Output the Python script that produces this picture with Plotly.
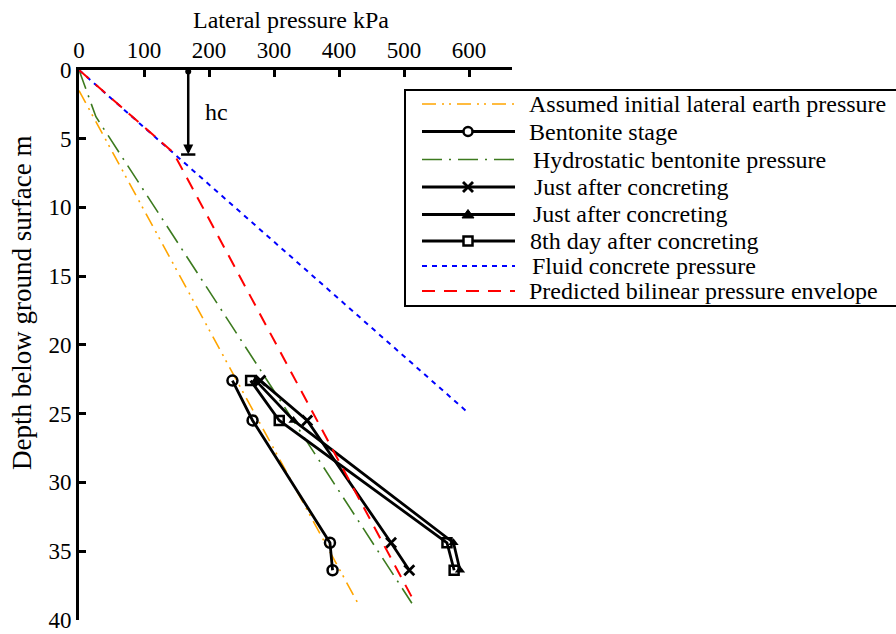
import plotly.graph_objects as go

# ---- data (pressure kPa, depth m) ----
earth_p = [0, 429]
earth_d = [1.5, 38.8]
hydro_p = [0, 26, 512]
hydro_d = [0, 3.4, 38.8]
fluid_p = [0, 600]
fluid_d = [0, 25]
bilinear_p = [0, 145, 517]
bilinear_d = [0, 6.0, 38.8]

gauge_depth = [22.6, 25.5, 34.4, 36.4]
bentonite_stage = [236, 267, 386, 390]
just_after_x = [279, 351, 480, 508]
just_after_tri = [272, 330, 576, 586]
day8_after = [264, 308, 566, 577]

hc_pressure = 168
hc_depth = 6.15

x_ticks = [0, 100, 200, 300, 400, 500, 600]
y_ticks = [0, 5, 10, 15, 20, 25, 30, 35, 40]

legend_labels = [
    "Assumed initial lateral earth pressure",
    "Bentonite stage",
    "Hydrostatic bentonite pressure",
    "Just after concreting",
    "Just after concreting",
    "8th day after concreting",
    "Fluid concrete pressure",
    "Predicted bilinear pressure envelope",
]

FONT = "Liberation Serif, Times New Roman, serif"

# styles
ORANGE = dict(color="#FFA500", width=1.6, dash="14px,6px,2px,5px,2px,6px")
GREEN = dict(color="#3C7A1E", width=1.6, dash="20px,7px,2px,7px")
BLUE = dict(color="#0000FF", width=2, dash="5px,5px")
RED = dict(color="#FF0000", width=2, dash="13px,9px")
BLACK = dict(color="black", width=2.8)

fig = go.Figure()

fig.add_trace(go.Scatter(x=earth_p, y=earth_d, mode="lines", name=legend_labels[0], line=ORANGE))
fig.add_trace(go.Scatter(x=bentonite_stage, y=gauge_depth, mode="lines+markers", name=legend_labels[1],
                         line=BLACK,
                         marker=dict(symbol="circle-open", size=10, color="black", line=dict(width=2.5))))
fig.add_trace(go.Scatter(x=hydro_p, y=hydro_d, mode="lines", name=legend_labels[2], line=GREEN))
fig.add_trace(go.Scatter(x=just_after_x, y=gauge_depth, mode="lines+markers", name=legend_labels[3],
                         line=BLACK,
                         marker=dict(symbol="x-thin", size=10, color="black", line=dict(width=2.8, color="black"))))
fig.add_trace(go.Scatter(x=just_after_tri, y=gauge_depth, mode="lines+markers", name=legend_labels[4],
                         line=BLACK,
                         marker=dict(symbol="triangle-up", size=9, color="black")))
fig.add_trace(go.Scatter(x=day8_after, y=gauge_depth, mode="lines+markers", name=legend_labels[5],
                         line=BLACK,
                         marker=dict(symbol="square-open", size=9, color="black", line=dict(width=2.5))))
fig.add_trace(go.Scatter(x=fluid_p, y=fluid_d, mode="lines", name=legend_labels[6], line=BLUE))
fig.add_trace(go.Scatter(x=bilinear_p, y=bilinear_d, mode="lines", name=legend_labels[7], line=RED))

# hc dimension marker
fig.add_annotation(x=hc_pressure, y=hc_depth, ax=hc_pressure, ay=0,
                   xref="x", yref="y", axref="x", ayref="y",
                   showarrow=True, arrowhead=2, arrowsize=0.8, arrowwidth=2.5,
                   arrowside="end+start", startarrowhead=6, startarrowsize=0.6,
                   arrowcolor="black", text="")
fig.add_shape(type="line", xref="x", yref="y",
              x0=hc_pressure - 11, x1=hc_pressure + 11, y0=hc_depth, y1=hc_depth,
              line=dict(color="black", width=2.5))
fig.add_annotation(x=hc_pressure + 22, y=hc_depth / 2, xref="x", yref="y",
                   text="hc", showarrow=False, xanchor="left",
                   font=dict(family=FONT, size=24, color="black"))

# ---- pixel layout helpers (converted to paper coords) ----
PL, PR, PT, PB = 79, 512, 70, 620


def px(xp):
    return (xp - PL) / (PR - PL)


def py(yp):
    return (PB - yp) / (PB - PT)


# axis titles as annotations
fig.add_annotation(x=px(22), y=py(303), xref="paper", yref="paper",
                   text="Depth below ground surface m", textangle=-90, showarrow=False,
                   xanchor="center", yanchor="middle",
                   font=dict(family=FONT, size=27, color="black"))
fig.add_annotation(x=px(291), y=py(20), xref="paper", yref="paper",
                   text="Lateral pressure kPa", showarrow=False,
                   xanchor="center", yanchor="middle",
                   font=dict(family=FONT, size=24, color="black"))

# hand-built legend box
fig.add_shape(type="rect", xref="paper", yref="paper",
              x0=px(405), x1=px(905), y0=py(90), y1=py(306),
              line=dict(color="black", width=2), fillcolor="white", layer="above")

row_y = [104, 131.5, 159.5, 187, 214.5, 241, 266, 291]
text_x = [529, 529, 533, 534, 533, 530, 531.5, 528.5]
styles = [ORANGE, BLACK, GREEN, BLACK, BLACK, BLACK, BLUE, RED]
markers = [None, "circle", None, "x", "tri", "square", None, None]
MX = 468
for lab, yy, tx, st, mk in zip(legend_labels, row_y, text_x, styles, markers):
    fig.add_shape(type="line", xref="paper", yref="paper",
                  x0=px(422), x1=px(515), y0=py(yy), y1=py(yy),
                  line=st, layer="above")
    if mk == "circle":
        fig.add_shape(type="circle", xref="paper", yref="paper",
                      x0=px(MX - 4.5), x1=px(MX + 4.5), y0=py(yy - 4.5), y1=py(yy + 4.5),
                      line=dict(color="black", width=2.5), fillcolor="white", layer="above")
    elif mk == "square":
        fig.add_shape(type="rect", xref="paper", yref="paper",
                      x0=px(MX - 4.5), x1=px(MX + 4.5), y0=py(yy - 4.5), y1=py(yy + 4.5),
                      line=dict(color="black", width=2.5), fillcolor="white", layer="above")
    elif mk == "x":
        for dx in (-1, 1):
            fig.add_shape(type="line", xref="paper", yref="paper",
                          x0=px(MX - 5 * dx), x1=px(MX + 5 * dx), y0=py(yy - 5), y1=py(yy + 5),
                          line=dict(color="black", width=2.8), layer="above")
    elif mk == "tri":
        p = "M {:.5f} {:.5f} L {:.5f} {:.5f} L {:.5f} {:.5f} Z".format(
            px(MX - 6), py(yy + 3.5), px(MX + 6), py(yy + 3.5), px(MX), py(yy - 5))
        fig.add_shape(type="path", xref="paper", yref="paper", path=p,
                      line=dict(color="black", width=1), fillcolor="black", layer="above")
    fig.add_annotation(x=px(tx - 2), y=py(yy), xref="paper", yref="paper",
                       text=lab, showarrow=False, xanchor="left", yanchor="middle",
                       font=dict(family=FONT, size=24, color="black"))

fig.update_layout(
    width=896, height=634,
    margin=dict(l=PL, r=896 - PR, t=PT, b=634 - PB, autoexpand=False),
    paper_bgcolor="white", plot_bgcolor="white",
    font=dict(family=FONT, size=23, color="black"),
    showlegend=False,
)
fig.update_xaxes(side="top", range=[0, 666], tickvals=x_ticks,
                 showline=True, linecolor="black", linewidth=3,
                 ticks="inside", ticklen=7, tickwidth=3, tickcolor="black",
                 showgrid=False, zeroline=False, automargin=False,
                 tickfont=dict(family=FONT, size=23))
fig.update_yaxes(range=[40.02, 0], tickvals=y_ticks,
                 showline=True, linecolor="black", linewidth=3,
                 ticks="inside", ticklen=7, tickwidth=3, tickcolor="black",
                 showgrid=False, zeroline=False, automargin=False,
                 ticklabeloverflow="allow",
                 tickfont=dict(family=FONT, size=23))

fig.write_html("out.html", config={"displayModeBar": False},
               post_script="document.body.style.margin='0';")
